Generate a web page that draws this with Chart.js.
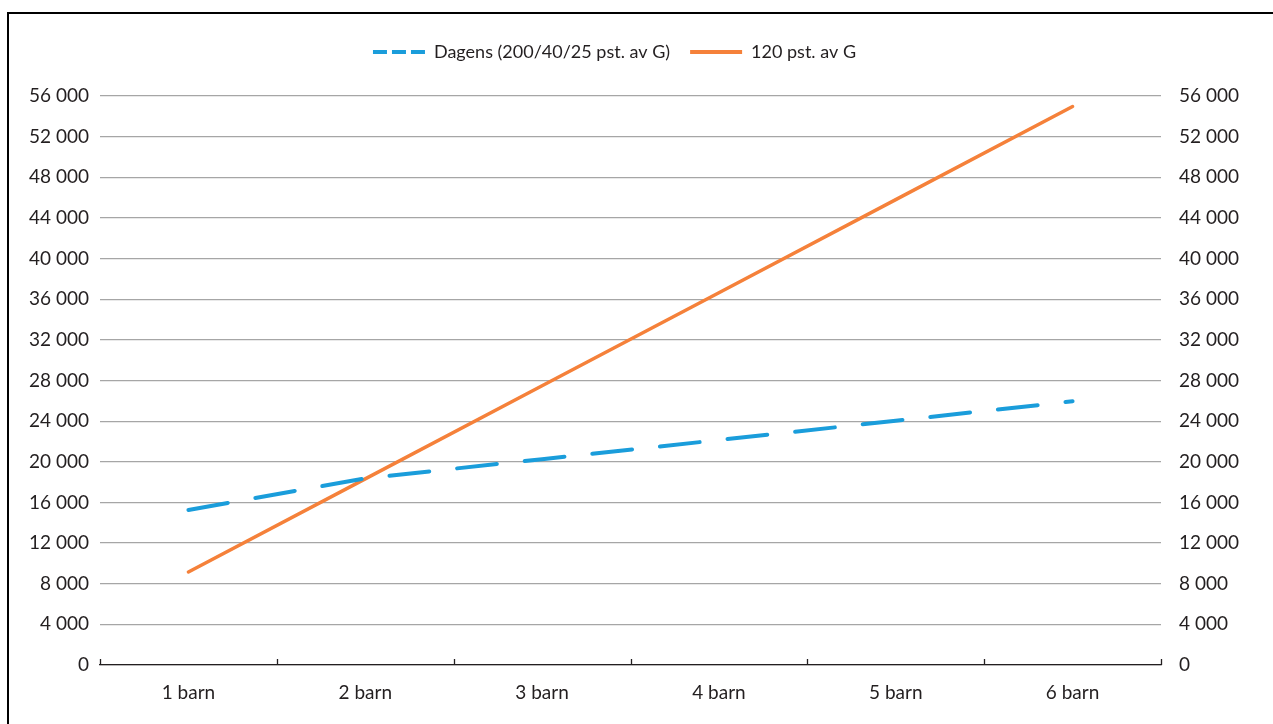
<!DOCTYPE html>
<html lang="no">
<head>
<meta charset="utf-8">
<title>Barnetrygd – dagens modell mot 120 pst. av G</title>
<script src="https://cdn.jsdelivr.net/npm/chart.js@4.4.1/dist/chart.umd.min.js"></script>
<style>
  html, body { margin: 0; padding: 0; background: #ffffff; }
  #wrap { position: relative; width: 1273px; height: 724px; overflow: hidden; }
  #frame {
    position: absolute; left: 7px; top: 12px; right: -10px; bottom: -10px;
    border-top: 2px solid #000; border-left: 2px solid #000;
    pointer-events: none;
  }
  canvas { position: absolute; left: 0; top: 0; }
</style>
</head>
<body>
<div id="wrap">
  <div id="frame"></div>
  <canvas id="chart" width="1273" height="724"></canvas>
</div>
<script>
// Categories and series
const children = ['1 barn', '2 barn', '3 barn', '4 barn', '5 barn', '6 barn'];
const dagens = [15260, 18370, 20260, 22140, 24040, 25950];
const pst120 = [9160, 18320, 27480, 36640, 45800, 54960];
const seriesNames = ['Dagens (200/40/25 pst. av G)', '120 pst. av G'];

// Value axis
const yMin = 0;
const yMax = 56000;
const yStep = 4000;

const FONT = 'Lato, "Open Sans", sans-serif';
const FONT_SIZE = 19;
const LEGEND_SIZE = 18;
const TEXT = '#231f20';
const BLUE = '#1a9ddb';
const ORANGE = '#f5813a';

function fmt(v) {
  return String(v).replace(/\B(?=(\d{3})+(?!\d))/g, ' ');
}

// Small upward tick marks on the category axis, at the category boundaries
const catTicks = {
  id: 'catTicks',
  afterDraw(chart) {
    const xs = chart.scales.x;
    const n = chart.data.labels.length;
    const half = (xs.getPixelForValue(1) - xs.getPixelForValue(0)) / 2;
    const ctx = chart.ctx;
    ctx.save();
    ctx.strokeStyle = TEXT;
    ctx.lineWidth = 1.3;
    ctx.beginPath();
    for (let i = 0; i <= n; i++) {
      const x = Math.round(xs.getPixelForValue(i) - half) + 0.5;
      ctx.moveTo(x, xs.top);
      ctx.lineTo(x, xs.top - 6);
    }
    ctx.stroke();
    ctx.restore();
  }
};

// Legend sits a little left of the canvas centre
const legendShift = {
  id: 'legendShift',
  afterLayout(chart) {
    const lg = chart.legend;
    if (lg) { lg.left -= 22; lg.right -= 22; }
  }
};

new Chart(document.getElementById('chart'), {
  type: 'line',
  data: {
    labels: children,
    datasets: [
      {
        label: seriesNames[0],
        data: dagens,
        borderColor: BLUE,
        backgroundColor: BLUE,
        borderWidth: 4,
        borderDash: [40, 28],
        borderCapStyle: 'round',
        pointRadius: 0,
        tension: 0,
        xAxisID: 'x',
        yAxisID: 'y'
      },
      {
        label: seriesNames[1],
        data: pst120,
        borderColor: ORANGE,
        backgroundColor: ORANGE,
        borderWidth: 3.5,
        borderCapStyle: 'round',
        pointRadius: 0,
        tension: 0,
        xAxisID: 'x',
        yAxisID: 'y'
      }
    ]
  },
  options: {
    responsive: false,
    animation: false,
    layout: { padding: { top: 23, left: 0, right: 0, bottom: 0 } },
    plugins: {
      tooltip: { enabled: false },
      legend: {
        position: 'top',
        align: 'center',
        labels: {
          font: { family: FONT, size: LEGEND_SIZE },
          color: TEXT,
          padding: 20,
          usePointStyle: true,
          pointStyleWidth: 52,
          boxHeight: 4,
          generateLabels(chart) {
            return chart.data.datasets.map((ds, i) => ({
              text: ds.label,
              datasetIndex: i,
              pointStyle: 'line',
              strokeStyle: ds.borderColor,
              fillStyle: ds.borderColor,
              lineWidth: 4,
              lineCap: 'butt',
              lineDash: i === 0 ? [14, 5] : [],
              fontColor: TEXT,
              hidden: false
            }));
          }
        }
      }
    },
    scales: {
      x: {
        type: 'category',
        offset: true,
        grid: { display: false, offset: true, drawTicks: false },
        border: { display: true, color: TEXT, width: 1.3 },
        ticks: { font: { family: FONT, size: FONT_SIZE }, color: TEXT, padding: 16 },
        afterFit(scale) { scale.height = 59; }
      },
      // empty spacer band between the legend and the plot
      xTop: {
        type: 'category',
        position: 'top',
        grid: { display: false, drawTicks: false },
        border: { display: false },
        ticks: { display: false },
        afterFit(scale) { scale.height = 25; }
      },
      y: {
        position: 'left',
        min: yMin, max: yMax,
        ticks: {
          stepSize: yStep,
          font: { family: FONT, size: FONT_SIZE },
          color: TEXT,
          padding: 11,
          callback: (v) => fmt(v)
        },
        grid: { color: '#a6a6a6', lineWidth: 1.2, drawTicks: false },
        border: { display: false },
        afterFit(scale) { scale.width = 100; }
      },
      y2: {
        position: 'right',
        min: yMin, max: yMax,
        ticks: {
          stepSize: yStep,
          font: { family: FONT, size: FONT_SIZE },
          color: TEXT,
          padding: 18,
          callback: (v) => fmt(v)
        },
        grid: { display: false, drawTicks: false },
        border: { display: false },
        afterFit(scale) { scale.width = 112; }
      }
    }
  },
  plugins: [catTicks, legendShift]
});
</script>
</body>
</html>
